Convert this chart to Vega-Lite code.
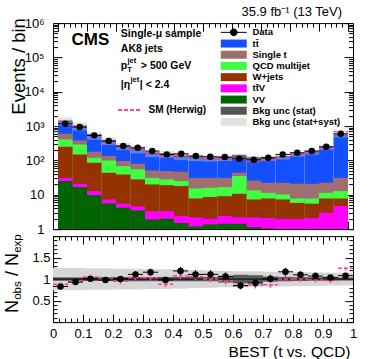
{
  "$schema": "https://vega.github.io/schema/vega-lite/v6.json",
  "padding": {"left": 3, "top": 5.1, "right": 0, "bottom": 0},
  "background": "white",
  "spacing": 7,
  "bounds": "flush",
  "config": {
    "font": "Liberation Sans",
    "view": {"stroke": "black", "strokeWidth": 1},
    "axis": {"labelFont": "Liberation Sans", "titleFont": "Liberation Sans", "labelColor": "black", "titleColor": "black", "tickColor": "black", "labelFontSize": 13, "titleFontWeight": "normal", "grid": false, "domain": false, "labelFlush": false, "labelOverlap": false, "labelBound": false},
    "legend": {"labelFont": "Liberation Sans", "labelColor": "black"},
    "text": {"font": "Liberation Sans", "color": "black"}
  },
  "resolve": {"scale": {"x": "independent", "y": "independent"}},
  "datasets": {
    "stack": [
      {"lo":0,"hi":0.05,"proc":"tt\u0304","upper":1406},{"lo":0.05,"hi":0.1,"proc":"tt\u0304","upper":1005},{"lo":0.1,"hi":0.15,"proc":"tt\u0304","upper":532},{"lo":0.15,"hi":0.2,"proc":"tt\u0304","upper":373},{"lo":0.2,"hi":0.25,"proc":"tt\u0304","upper":262},{"lo":0.25,"hi":0.3,"proc":"tt\u0304","upper":211},{"lo":0.3,"hi":0.35,"proc":"tt\u0304","upper":161},{"lo":0.35,"hi":0.4,"proc":"tt\u0304","upper":153},{"lo":0.4,"hi":0.45,"proc":"tt\u0304","upper":131},{"lo":0.45,"hi":0.5,"proc":"tt\u0304","upper":121},{"lo":0.5,"hi":0.55,"proc":"tt\u0304","upper":115},{"lo":0.55,"hi":0.6,"proc":"tt\u0304","upper":118},{"lo":0.6,"hi":0.65,"proc":"tt\u0304","upper":132},{"lo":0.65,"hi":0.7,"proc":"tt\u0304","upper":114},{"lo":0.7,"hi":0.75,"proc":"tt\u0304","upper":118},{"lo":0.75,"hi":0.8,"proc":"tt\u0304","upper":128},{"lo":0.8,"hi":0.85,"proc":"tt\u0304","upper":152},{"lo":0.85,"hi":0.9,"proc":"tt\u0304","upper":175},{"lo":0.9,"hi":0.95,"proc":"tt\u0304","upper":240},{"lo":0.95,"hi":1,"proc":"tt\u0304","upper":553},
      {"lo":0,"hi":0.05,"proc":"Single t","upper":598},{"lo":0.05,"hi":0.1,"proc":"Single t","upper":383},{"lo":0.1,"hi":0.15,"proc":"Single t","upper":179},{"lo":0.15,"hi":0.2,"proc":"Single t","upper":134},{"lo":0.2,"hi":0.25,"proc":"Single t","upper":96},{"lo":0.25,"hi":0.3,"proc":"Single t","upper":80},{"lo":0.3,"hi":0.35,"proc":"Single t","upper":51},{"lo":0.35,"hi":0.4,"proc":"Single t","upper":49},{"lo":0.4,"hi":0.45,"proc":"Single t","upper":47},{"lo":0.45,"hi":0.5,"proc":"Single t","upper":31},{"lo":0.5,"hi":0.55,"proc":"Single t","upper":31},{"lo":0.55,"hi":0.6,"proc":"Single t","upper":31},{"lo":0.6,"hi":0.65,"proc":"Single t","upper":43.7},{"lo":0.65,"hi":0.7,"proc":"Single t","upper":26},{"lo":0.7,"hi":0.75,"proc":"Single t","upper":22.4},{"lo":0.75,"hi":0.8,"proc":"Single t","upper":22.4},{"lo":0.8,"hi":0.85,"proc":"Single t","upper":20.9},{"lo":0.85,"hi":0.9,"proc":"Single t","upper":20.9},{"lo":0.9,"hi":0.95,"proc":"Single t","upper":22.4},{"lo":0.95,"hi":1,"proc":"Single t","upper":31},
      {"lo":0,"hi":0.05,"proc":"QCD multijet","upper":409},{"lo":0.05,"hi":0.1,"proc":"QCD multijet","upper":292},{"lo":0.1,"hi":0.15,"proc":"QCD multijet","upper":120},{"lo":0.15,"hi":0.2,"proc":"QCD multijet","upper":100},{"lo":0.2,"hi":0.25,"proc":"QCD multijet","upper":68},{"lo":0.25,"hi":0.3,"proc":"QCD multijet","upper":55},{"lo":0.3,"hi":0.35,"proc":"QCD multijet","upper":31},{"lo":0.35,"hi":0.4,"proc":"QCD multijet","upper":28},{"lo":0.4,"hi":0.45,"proc":"QCD multijet","upper":25},{"lo":0.45,"hi":0.5,"proc":"QCD multijet","upper":15.3},{"lo":0.5,"hi":0.55,"proc":"QCD multijet","upper":16},{"lo":0.55,"hi":0.6,"proc":"QCD multijet","upper":16.7},{"lo":0.6,"hi":0.65,"proc":"QCD multijet","upper":35},{"lo":0.65,"hi":0.7,"proc":"QCD multijet","upper":13.4},{"lo":0.7,"hi":0.75,"proc":"QCD multijet","upper":11.4},{"lo":0.75,"hi":0.8,"proc":"QCD multijet","upper":10.2},{"lo":0.8,"hi":0.85,"proc":"QCD multijet","upper":7.8},{"lo":0.85,"hi":0.9,"proc":"QCD multijet","upper":7.8},{"lo":0.9,"hi":0.95,"proc":"QCD multijet","upper":11.4},{"lo":0.95,"hi":1,"proc":"QCD multijet","upper":12.8},
      {"lo":0,"hi":0.05,"proc":"W+jets","upper":250},{"lo":0.05,"hi":0.1,"proc":"W+jets","upper":150},{"lo":0.1,"hi":0.15,"proc":"W+jets","upper":85.5},{"lo":0.15,"hi":0.2,"proc":"W+jets","upper":43.7},{"lo":0.2,"hi":0.25,"proc":"W+jets","upper":39},{"lo":0.25,"hi":0.3,"proc":"W+jets","upper":28},{"lo":0.3,"hi":0.35,"proc":"W+jets","upper":20},{"lo":0.35,"hi":0.4,"proc":"W+jets","upper":19},{"lo":0.4,"hi":0.45,"proc":"W+jets","upper":17.9},{"lo":0.45,"hi":0.5,"proc":"W+jets","upper":7.8},{"lo":0.5,"hi":0.55,"proc":"W+jets","upper":8.6},{"lo":0.55,"hi":0.6,"proc":"W+jets","upper":9.1},{"lo":0.6,"hi":0.65,"proc":"W+jets","upper":10.7},{"lo":0.65,"hi":0.7,"proc":"W+jets","upper":7.3},{"lo":0.7,"hi":0.75,"proc":"W+jets","upper":7.8},{"lo":0.75,"hi":0.8,"proc":"W+jets","upper":7.3},{"lo":0.8,"hi":0.85,"proc":"W+jets","upper":5.8},{"lo":0.85,"hi":0.9,"proc":"W+jets","upper":5.5},{"lo":0.9,"hi":0.95,"proc":"W+jets","upper":7.8},{"lo":0.95,"hi":1,"proc":"W+jets","upper":7.8},
      {"lo":0,"hi":0.05,"proc":"tt\u0304V","upper":31},{"lo":0.05,"hi":0.1,"proc":"tt\u0304V","upper":20.9},{"lo":0.1,"hi":0.15,"proc":"tt\u0304V","upper":12.8},{"lo":0.15,"hi":0.2,"proc":"tt\u0304V","upper":7.3},{"lo":0.2,"hi":0.25,"proc":"tt\u0304V","upper":5.5},{"lo":0.25,"hi":0.3,"proc":"tt\u0304V","upper":4.6},{"lo":0.3,"hi":0.35,"proc":"tt\u0304V","upper":3.3},{"lo":0.35,"hi":0.4,"proc":"tt\u0304V","upper":3.3},{"lo":0.4,"hi":0.45,"proc":"tt\u0304V","upper":2.4},{"lo":0.45,"hi":0.5,"proc":"tt\u0304V","upper":2.2},{"lo":0.5,"hi":0.55,"proc":"tt\u0304V","upper":2.0},{"lo":0.55,"hi":0.6,"proc":"tt\u0304V","upper":2.4},{"lo":0.6,"hi":0.65,"proc":"tt\u0304V","upper":2.2},{"lo":0.65,"hi":0.7,"proc":"tt\u0304V","upper":2.2},{"lo":0.7,"hi":0.75,"proc":"tt\u0304V","upper":2.1},{"lo":0.75,"hi":0.8,"proc":"tt\u0304V","upper":2.0},{"lo":0.8,"hi":0.85,"proc":"tt\u0304V","upper":2.0},{"lo":0.85,"hi":0.9,"proc":"tt\u0304V","upper":2.1},{"lo":0.9,"hi":0.95,"proc":"tt\u0304V","upper":3.0},{"lo":0.95,"hi":1,"proc":"tt\u0304V","upper":4.7},
      {"lo":0,"hi":0.05,"proc":"VV","upper":25},{"lo":0.05,"hi":0.1,"proc":"VV","upper":16.7},{"lo":0.1,"hi":0.15,"proc":"VV","upper":9.8},{"lo":0.15,"hi":0.2,"proc":"VV","upper":5.6},{"lo":0.2,"hi":0.25,"proc":"VV","upper":4.2},{"lo":0.25,"hi":0.3,"proc":"VV","upper":3.5},{"lo":0.3,"hi":0.35,"proc":"VV","upper":1.9},{"lo":0.35,"hi":0.4,"proc":"VV","upper":2.0},{"lo":0.4,"hi":0.45,"proc":"VV","upper":1.5},{"lo":0.45,"hi":0.5,"proc":"VV","upper":1.2},{"lo":0.5,"hi":0.55,"proc":"VV","upper":1.37},{"lo":0.55,"hi":0.6,"proc":"VV","upper":1.43},{"lo":0.6,"hi":0.65,"proc":"VV","upper":1.43},{"lo":0.65,"hi":0.7,"proc":"VV","upper":1.14},{"lo":0.7,"hi":0.75,"proc":"VV","upper":1.04},{"lo":0.75,"hi":0.8,"proc":"VV","upper":1},{"lo":0.8,"hi":0.85,"proc":"VV","upper":1},{"lo":0.85,"hi":0.9,"proc":"VV","upper":1},{"lo":0.9,"hi":0.95,"proc":"VV","upper":1},{"lo":0.95,"hi":1,"proc":"VV","upper":1}
    ],
    "bins": [
      {"lo":0,"hi":0.05,"x":0.025,"data":1167,"dlo":1133,"dhi":1201,"ratio":0.83,"rlo":0.806,"rhi":0.854,"syst_lo":1040,"syst_hi":1772,"stat_lo":1350,"stat_hi":1462,"rsyst_lo":0.74,"rsyst_hi":1.26,"rstat_lo":0.96,"rstat_hi":1.04,"herwig":1237,"hr":0.88,"hr_lo":0.82,"hr_hi":0.94},
      {"lo":0.05,"hi":0.1,"x":0.075,"data":935,"dlo":904,"dhi":966,"ratio":0.93,"rlo":0.9,"rhi":0.96,"syst_lo":744,"syst_hi":1266,"stat_lo":965,"stat_hi":1045,"rsyst_lo":0.74,"rsyst_hi":1.26,"rstat_lo":0.96,"rstat_hi":1.04,"herwig":955,"hr":0.95,"hr_lo":0.89,"hr_hi":1.01},
      {"lo":0.1,"hi":0.15,"x":0.125,"data":537,"dlo":514,"dhi":560,"ratio":1.01,"rlo":0.967,"rhi":1.053,"syst_lo":399,"syst_hi":665,"stat_lo":508,"stat_hi":556,"rsyst_lo":0.75,"rsyst_hi":1.25,"rstat_lo":0.955,"rstat_hi":1.045,"herwig":559,"hr":1.05,"hr_lo":0.99,"hr_hi":1.11},
      {"lo":0.15,"hi":0.2,"x":0.175,"data":366,"dlo":347,"dhi":385,"ratio":0.98,"rlo":0.93,"rhi":1.03,"syst_lo":280,"syst_hi":466,"stat_lo":356,"stat_hi":390,"rsyst_lo":0.75,"rsyst_hi":1.25,"rstat_lo":0.955,"rstat_hi":1.045,"herwig":373,"hr":1.0,"hr_lo":0.94,"hr_hi":1.06},
      {"lo":0.2,"hi":0.25,"x":0.225,"data":262,"dlo":246,"dhi":278,"ratio":1.0,"rlo":0.938,"rhi":1.062,"syst_lo":199,"syst_hi":325,"stat_lo":249,"stat_hi":275,"rsyst_lo":0.76,"rsyst_hi":1.24,"rstat_lo":0.95,"rstat_hi":1.05,"herwig":249,"hr":0.95,"hr_lo":0.88,"hr_hi":1.02},
      {"lo":0.25,"hi":0.3,"x":0.275,"data":234,"dlo":219,"dhi":249,"ratio":1.11,"rlo":1.038,"rhi":1.182,"syst_lo":160,"syst_hi":262,"stat_lo":200,"stat_hi":222,"rsyst_lo":0.76,"rsyst_hi":1.24,"rstat_lo":0.95,"rstat_hi":1.05,"herwig":219,"hr":1.04,"hr_lo":0.97,"hr_hi":1.11},
      {"lo":0.3,"hi":0.35,"x":0.325,"data":187,"dlo":173,"dhi":201,"ratio":1.16,"rlo":1.075,"rhi":1.245,"syst_lo":124,"syst_hi":198,"stat_lo":153,"stat_hi":169,"rsyst_lo":0.77,"rsyst_hi":1.23,"rstat_lo":0.95,"rstat_hi":1.05,"herwig":166,"hr":1.03,"hr_lo":0.96,"hr_hi":1.1},
      {"lo":0.35,"hi":0.4,"x":0.375,"data":150,"dlo":138,"dhi":162,"ratio":0.98,"rlo":0.9,"rhi":1.06,"syst_lo":118,"syst_hi":188,"stat_lo":145,"stat_hi":161,"rsyst_lo":0.77,"rsyst_hi":1.23,"rstat_lo":0.95,"rstat_hi":1.05,"herwig":135,"hr":0.88,"hr_lo":0.81,"hr_hi":0.95},
      {"lo":0.4,"hi":0.45,"x":0.425,"data":156,"dlo":143.5,"dhi":168.5,"ratio":1.19,"rlo":1.095,"rhi":1.285,"syst_lo":102,"syst_hi":160,"stat_lo":124,"stat_hi":138,"rsyst_lo":0.78,"rsyst_hi":1.22,"rstat_lo":0.95,"rstat_hi":1.05,"herwig":141,"hr":1.08,"hr_lo":1.0,"hr_hi":1.16},
      {"lo":0.45,"hi":0.5,"x":0.475,"data":134,"dlo":122.4,"dhi":145.6,"ratio":1.11,"rlo":1.014,"rhi":1.206,"syst_lo":96,"syst_hi":146,"stat_lo":115,"stat_hi":127,"rsyst_lo":0.79,"rsyst_hi":1.21,"rstat_lo":0.95,"rstat_hi":1.05,"herwig":128,"hr":1.06,"hr_lo":0.98,"hr_hi":1.14},
      {"lo":0.5,"hi":0.55,"x":0.525,"data":128,"dlo":116.7,"dhi":139.3,"ratio":1.11,"rlo":1.012,"rhi":1.208,"syst_lo":92,"syst_hi":138,"stat_lo":109,"stat_hi":121,"rsyst_lo":0.8,"rsyst_hi":1.2,"rstat_lo":0.95,"rstat_hi":1.05,"herwig":115,"hr":1.0,"hr_lo":0.92,"hr_hi":1.08},
      {"lo":0.55,"hi":0.6,"x":0.575,"data":125,"dlo":113.8,"dhi":136.2,"ratio":1.06,"rlo":0.965,"rhi":1.155,"syst_lo":96,"syst_hi":140,"stat_lo":109,"stat_hi":127,"rsyst_lo":0.81,"rsyst_hi":1.19,"rstat_lo":0.92,"rstat_hi":1.08,"herwig":113,"hr":0.96,"hr_lo":0.88,"hr_hi":1.04},
      {"lo":0.6,"hi":0.65,"x":0.625,"data":112,"dlo":101.4,"dhi":122.6,"ratio":0.85,"rlo":0.77,"rhi":0.93,"syst_lo":108,"syst_hi":156,"stat_lo":119,"stat_hi":145,"rsyst_lo":0.82,"rsyst_hi":1.18,"rstat_lo":0.9,"rstat_hi":1.1,"herwig":111,"hr":0.84,"hr_lo":0.76,"hr_hi":0.92},
      {"lo":0.65,"hi":0.7,"x":0.675,"data":104,"dlo":93.8,"dhi":114.2,"ratio":0.91,"rlo":0.821,"rhi":0.999,"syst_lo":93,"syst_hi":135,"stat_lo":104,"stat_hi":124,"rsyst_lo":0.82,"rsyst_hi":1.18,"rstat_lo":0.91,"rstat_hi":1.09,"herwig":98,"hr":0.86,"hr_lo":0.78,"hr_hi":0.94},
      {"lo":0.7,"hi":0.75,"x":0.725,"data":119,"dlo":108.1,"dhi":129.9,"ratio":1.01,"rlo":0.917,"rhi":1.103,"syst_lo":98,"syst_hi":138,"stat_lo":111,"stat_hi":125,"rsyst_lo":0.83,"rsyst_hi":1.17,"rstat_lo":0.94,"rstat_hi":1.06,"herwig":103,"hr":0.87,"hr_lo":0.8,"hr_hi":0.94},
      {"lo":0.75,"hi":0.8,"x":0.775,"data":150,"dlo":137.8,"dhi":162.2,"ratio":1.17,"rlo":1.075,"rhi":1.265,"syst_lo":106,"syst_hi":150,"stat_lo":122,"stat_hi":134,"rsyst_lo":0.83,"rsyst_hi":1.17,"rstat_lo":0.95,"rstat_hi":1.05,"herwig":128,"hr":1.0,"hr_lo":0.93,"hr_hi":1.07},
      {"lo":0.8,"hi":0.85,"x":0.825,"data":167,"dlo":154.1,"dhi":179.9,"ratio":1.1,"rlo":1.015,"rhi":1.185,"syst_lo":128,"syst_hi":176,"stat_lo":145,"stat_hi":159,"rsyst_lo":0.84,"rsyst_hi":1.16,"rstat_lo":0.955,"rstat_hi":1.045,"herwig":152,"hr":1.0,"hr_lo":0.93,"hr_hi":1.07},
      {"lo":0.85,"hi":0.9,"x":0.875,"data":187,"dlo":173.3,"dhi":200.7,"ratio":1.07,"rlo":0.992,"rhi":1.148,"syst_lo":147,"syst_hi":203,"stat_lo":168,"stat_hi":182,"rsyst_lo":0.84,"rsyst_hi":1.16,"rstat_lo":0.96,"rstat_hi":1.04,"herwig":172,"hr":0.98,"hr_lo":0.92,"hr_hi":1.04},
      {"lo":0.9,"hi":0.95,"x":0.925,"data":250,"dlo":234.2,"dhi":265.8,"ratio":1.04,"rlo":0.974,"rhi":1.106,"syst_lo":204,"syst_hi":276,"stat_lo":230,"stat_hi":250,"rsyst_lo":0.85,"rsyst_hi":1.15,"rstat_lo":0.96,"rstat_hi":1.04,"herwig":233,"hr":0.97,"hr_lo":0.91,"hr_hi":1.03},
      {"lo":0.95,"hi":1,"x":0.975,"data":597,"dlo":572.6,"dhi":621.4,"ratio":1.08,"rlo":1.036,"rhi":1.124,"syst_lo":470,"syst_hi":636,"stat_lo":534,"stat_hi":572,"rsyst_lo":0.85,"rsyst_hi":1.15,"rstat_lo":0.965,"rstat_hi":1.035,"herwig":691,"hr":1.25,"hr_lo":1.2,"hr_hi":1.3}
    ]
  },
  "vconcat": [
    {
      "width": 300,
      "height": 206,
      "title": {"text": "35.9 fb\u207b\u00b9 (13 TeV)", "anchor": "end", "frame": "group", "fontSize": 13, "fontWeight": "normal", "font": "Liberation Sans", "color": "black", "offset": -1.6, "dx": -11},
      "resolve": {"axis": {"x": "independent", "y": "independent"}},
      "layer": [
        {
          "data": {"name": "stack"},
          "mark": {"type": "bar", "orient": "vertical", "clip": true},
          "encoding": {
            "x": {"field": "lo", "type": "quantitative", "scale": {"domain": [0, 1], "nice": false, "zero": false},
              "axis": {"values": [0,0.02,0.04,0.06,0.08,0.1,0.12,0.14,0.16,0.18,0.2,0.22,0.24,0.26,0.28,0.3,0.32,0.34,0.36,0.38,0.4,0.42,0.44,0.46,0.48,0.5,0.52,0.54,0.56,0.58,0.6,0.62,0.64,0.66,0.68,0.7,0.72,0.74,0.76,0.78,0.8,0.82,0.84,0.86,0.88,0.9,0.92,0.94,0.96,0.98,1], "labels": false, "title": null,
                "tickSize": {"condition": {"test": "abs(datum.value*10 - round(datum.value*10)) < 0.001", "value": -8}, "value": -4}}},
            "x2": {"field": "hi"},
            "y": {"field": "upper", "type": "quantitative", "stack": null, "scale": {"type": "log", "domain": [1, 1000000], "nice": false},
              "axis": {"values": [1,2,3,4,5,6,7,8,9,10,20,30,40,50,60,70,80,90,100,200,300,400,500,600,700,800,900,1000,2000,3000,4000,5000,6000,7000,8000,9000,10000,20000,30000,40000,50000,60000,70000,80000,90000,100000,200000,300000,400000,500000,600000,700000,800000,900000,1000000],
                "labelExpr": "datum.value === 1 ? '1' : datum.value === 10 ? '10' : datum.value === 100 ? '10\u00b2' : datum.value === 1000 ? '10\u00b3' : datum.value === 10000 ? '10\u2074' : datum.value === 100000 ? '10\u2075' : datum.value === 1000000 ? '10\u2076' : ''",
                "labelPadding": 18,
                "tickSize": {"condition": {"test": "abs(log(datum.value)/LN10 - round(log(datum.value)/LN10)) < 0.001", "value": -9}, "value": -4.5},
                "title": "Events / bin", "titleFontSize": 18.5, "titleX": -29, "titleY": -5.5, "titleAlign": "right", "titleAngle": 270, "titleBaseline": "alphabetic"}},
            "color": {"field": "proc", "type": "nominal",
              "scale": {"domain": ["Data", "tt\u0304", "Single t", "QCD multijet", "W+jets", "tt\u0304V", "VV", "Bkg unc (stat)", "Bkg unc (stat+syst)"],
                        "range": ["#000000", "#1450ff", "#a06e6e", "#40ff40", "#963200", "#ff00ff", "#006400", "#555555", "#e2e2e2"]},
              "legend": {"title": null, "orient": "none", "legendX": 176, "legendY": 4.5, "symbolSize": 64, "labelFontSize": 9.5, "labelFontWeight": "bold", "labelOffset": 14, "rowPadding": -1.8, "labelLimit": 200,
                "encode": {"symbols": {"update": {
                  "shape": {"signal": "datum.value === 'Data' ? 'M-3.25,0H3.25M0.85,0A0.85,0.85,0,1,1,-0.85,0A0.85,0.85,0,1,1,0.85,0Z' : 'M-3.25,-1H3.25V1H-3.25Z'"},
                  "stroke": {"signal": "datum.value === 'Data' ? 'black' : 'transparent'"},
                  "strokeWidth": {"value": 1}}}}}}
          }
        },
        {
          "data": {"name": "bins"},
          "mark": {"type": "rect", "color": "#bdbdbd", "opacity": 0.45, "clip": true},
          "encoding": {
            "x": {"field": "lo", "type": "quantitative", "axis": null},
            "x2": {"field": "hi"},
            "y": {"field": "syst_lo", "type": "quantitative", "axis": null},
            "y2": {"field": "syst_hi"}
          }
        },
        {
          "data": {"name": "bins"},
          "mark": {"type": "rect", "color": "#555555", "opacity": 0.8, "clip": true},
          "encoding": {
            "x": {"field": "lo", "type": "quantitative", "axis": null},
            "x2": {"field": "hi"},
            "y": {"field": "stat_lo", "type": "quantitative", "axis": null},
            "y2": {"field": "stat_hi"}
          }
        },
        {
          "data": {"name": "bins"},
          "mark": {"type": "rule", "strokeDash": [4, 2], "strokeWidth": 1.5, "clip": true},
          "encoding": {
            "x": {"field": "lo", "type": "quantitative", "axis": null},
            "x2": {"field": "hi"},
            "y": {"field": "herwig", "type": "quantitative", "axis": null},
            "stroke": {"datum": "SM (Herwig)", "scale": {"range": ["#ff3fa4"]},
              "legend": {"title": null, "orient": "none", "legendX": 64, "legendY": 75, "symbolType": "stroke", "symbolSize": 484, "symbolDash": [4, 2], "symbolStrokeWidth": 2, "labelFontSize": 10, "labelFontWeight": "bold", "labelOffset": 7.5}}
          }
        },
        {
          "data": {"name": "bins"},
          "mark": {"type": "rule", "color": "black", "strokeWidth": 1},
          "encoding": {
            "x": {"field": "lo", "type": "quantitative", "axis": null},
            "x2": {"field": "hi"},
            "y": {"field": "data", "type": "quantitative", "axis": null}
          }
        },
        {
          "data": {"name": "bins"},
          "mark": {"type": "rule", "color": "black", "strokeWidth": 1},
          "encoding": {
            "x": {"field": "x", "type": "quantitative", "axis": null},
            "y": {"field": "dlo", "type": "quantitative", "axis": null},
            "y2": {"field": "dhi"}
          }
        },
        {
          "data": {"name": "bins"},
          "mark": {"type": "circle", "color": "black", "opacity": 1, "size": 42},
          "encoding": {
            "x": {"field": "x", "type": "quantitative",
              "axis": {"orient": "top", "values": [0,0.02,0.04,0.06,0.08,0.1,0.12,0.14,0.16,0.18,0.2,0.22,0.24,0.26,0.28,0.3,0.32,0.34,0.36,0.38,0.4,0.42,0.44,0.46,0.48,0.5,0.52,0.54,0.56,0.58,0.6,0.62,0.64,0.66,0.68,0.7,0.72,0.74,0.76,0.78,0.8,0.82,0.84,0.86,0.88,0.9,0.92,0.94,0.96,0.98,1], "labels": false, "title": null,
                "tickSize": {"condition": {"test": "abs(datum.value*10 - round(datum.value*10)) < 0.001", "value": -8}, "value": -4}}},
            "y": {"field": "data", "type": "quantitative",
              "axis": {"orient": "right", "values": [1,2,3,4,5,6,7,8,9,10,20,30,40,50,60,70,80,90,100,200,300,400,500,600,700,800,900,1000,2000,3000,4000,5000,6000,7000,8000,9000,10000,20000,30000,40000,50000,60000,70000,80000,90000,100000,200000,300000,400000,500000,600000,700000,800000,900000,1000000], "labels": false, "title": null,
                "tickSize": {"condition": {"test": "abs(log(datum.value)/LN10 - round(log(datum.value)/LN10)) < 0.001", "value": -9}, "value": -4.5}}}
          }
        },
        {
          "data": {"values": [{}]},
          "mark": {"type": "text", "text": "CMS", "fontSize": 17, "fontWeight": "bold", "align": "left", "baseline": "alphabetic"},
          "encoding": {"x": {"datum": 0.0467, "axis": null}, "y": {"datum": 235000, "axis": null}}
        },
        {
          "data": {"values": [{}]},
          "mark": {"type": "text", "text": "Single-\u03bc sample", "fontSize": 10.5, "fontWeight": "bold", "align": "left", "baseline": "alphabetic"},
          "encoding": {"x": {"datum": 0.2167, "axis": null}, "y": {"datum": 400000, "axis": null}}
        },
        {
          "data": {"values": [{}]},
          "mark": {"type": "text", "text": "AK8 jets", "fontSize": 10.5, "fontWeight": "bold", "align": "left", "baseline": "alphabetic"},
          "encoding": {"x": {"datum": 0.2167, "axis": null}, "y": {"datum": 140000, "axis": null}}
        },
        {
          "data": {"values": [{}]},
          "mark": {"type": "text", "text": "p", "fontSize": 10.5, "fontWeight": "bold", "align": "left", "baseline": "alphabetic"},
          "encoding": {"x": {"datum": 0.2167, "axis": null}, "y": {"datum": 46000, "axis": null}}
        },
        {
          "data": {"values": [{}]},
          "mark": {"type": "text", "text": "T", "fontSize": 7.5, "fontWeight": "bold", "align": "left", "baseline": "alphabetic", "dx": 6.4, "dy": 2.5},
          "encoding": {"x": {"datum": 0.2167, "axis": null}, "y": {"datum": 46000, "axis": null}}
        },
        {
          "data": {"values": [{}]},
          "mark": {"type": "text", "text": "jet", "fontSize": 7.5, "fontWeight": "bold", "align": "left", "baseline": "alphabetic", "dx": 6.6, "dy": -6},
          "encoding": {"x": {"datum": 0.2167, "axis": null}, "y": {"datum": 46000, "axis": null}}
        },
        {
          "data": {"values": [{}]},
          "mark": {"type": "text", "text": "> 500 GeV", "fontSize": 10.5, "fontWeight": "bold", "align": "left", "baseline": "alphabetic", "dx": 20},
          "encoding": {"x": {"datum": 0.2167, "axis": null}, "y": {"datum": 46000, "axis": null}}
        },
        {
          "data": {"values": [{}]},
          "mark": {"type": "text", "text": "|\u03b7", "fontSize": 10.5, "fontWeight": "bold", "align": "left", "baseline": "alphabetic"},
          "encoding": {"x": {"datum": 0.2167, "axis": null}, "y": {"datum": 13000, "axis": null}}
        },
        {
          "data": {"values": [{}]},
          "mark": {"type": "text", "text": "jet", "fontSize": 7.5, "fontWeight": "bold", "align": "left", "baseline": "alphabetic", "dx": 9.6, "dy": -6},
          "encoding": {"x": {"datum": 0.2167, "axis": null}, "y": {"datum": 13000, "axis": null}}
        },
        {
          "data": {"values": [{}]},
          "mark": {"type": "text", "text": "| < 2.4", "fontSize": 10.5, "fontWeight": "bold", "align": "left", "baseline": "alphabetic", "dx": 19},
          "encoding": {"x": {"datum": 0.2167, "axis": null}, "y": {"datum": 13000, "axis": null}}
        }
      ]
    },
    {
      "width": 300,
      "height": 86,
      "resolve": {"axis": {"x": "independent", "y": "independent"}},
      "layer": [
        {
          "data": {"name": "bins"},
          "mark": {"type": "rect", "color": "#d6d6d6"},
          "encoding": {
            "x": {"field": "lo", "type": "quantitative", "scale": {"domain": [0, 1], "nice": false, "zero": false},
              "axis": {"values": [0,0.02,0.04,0.06,0.08,0.1,0.12,0.14,0.16,0.18,0.2,0.22,0.24,0.26,0.28,0.3,0.32,0.34,0.36,0.38,0.4,0.42,0.44,0.46,0.48,0.5,0.52,0.54,0.56,0.58,0.6,0.62,0.64,0.66,0.68,0.7,0.72,0.74,0.76,0.78,0.8,0.82,0.84,0.86,0.88,0.9,0.92,0.94,0.96,0.98,1],
                "labelExpr": "abs(datum.value*10 - round(datum.value*10)) < 0.001 ? format(datum.value, '~g') : ''",
                "labelPadding": 13,
                "tickSize": {"condition": {"test": "abs(datum.value*10 - round(datum.value*10)) < 0.001", "value": -8}, "value": -4},
                "title": "BEST (t vs. QCD)", "titleFontSize": 15.5, "titleX": 297, "titleY": 34, "titleAlign": "right", "titleAnchor": "end", "titleBaseline": "alphabetic"}},
            "x2": {"field": "hi"},
            "y": {"field": "rsyst_lo", "type": "quantitative", "scale": {"domain": [0, 2], "nice": false, "zero": false},
              "axis": {"values": [0,0.1,0.2,0.3,0.4,0.5,0.6,0.7,0.8,0.9,1,1.1,1.2,1.3,1.4,1.5,1.6,1.7,1.8,1.9,2],
                "labelExpr": "datum.value === 0.5 ? '0.5' : datum.value === 1 ? '1' : datum.value === 1.5 ? '1.5' : ''",
                "labelPadding": 11,
                "tickSize": {"condition": {"test": "abs(datum.value*2 - round(datum.value*2)) < 0.001", "value": -8}, "value": -4},
                "title": null}},
            "y2": {"field": "rsyst_hi"}
          }
        },
        {
          "data": {"name": "bins"},
          "mark": {"type": "rect", "color": "#5a5a5a"},
          "encoding": {
            "x": {"field": "lo", "type": "quantitative", "axis": null},
            "x2": {"field": "hi"},
            "y": {"field": "rstat_lo", "type": "quantitative", "axis": null},
            "y2": {"field": "rstat_hi"}
          }
        },
        {
          "data": {"values": [{}]},
          "mark": {"type": "rule", "color": "black", "strokeWidth": 1},
          "encoding": {"y": {"datum": 1, "axis": null}}
        },
        {
          "data": {"name": "bins"},
          "mark": {"type": "rule", "color": "#ff3fa4", "strokeDash": [4, 2], "strokeWidth": 1.5},
          "encoding": {
            "x": {"field": "lo", "type": "quantitative", "axis": null},
            "x2": {"field": "hi"},
            "y": {"field": "hr", "type": "quantitative", "axis": null}
          }
        },
        {
          "data": {"name": "bins"},
          "mark": {"type": "rule", "color": "#ff3fa4", "strokeDash": [3, 2], "strokeWidth": 1.5},
          "encoding": {
            "x": {"field": "x", "type": "quantitative", "axis": null},
            "y": {"field": "hr_lo", "type": "quantitative", "axis": null},
            "y2": {"field": "hr_hi"}
          }
        },
        {
          "data": {"name": "bins"},
          "mark": {"type": "rule", "color": "black", "strokeWidth": 1},
          "encoding": {
            "x": {"field": "lo", "type": "quantitative", "axis": null},
            "x2": {"field": "hi"},
            "y": {"field": "ratio", "type": "quantitative", "axis": null}
          }
        },
        {
          "data": {"name": "bins"},
          "mark": {"type": "rule", "color": "black", "strokeWidth": 1},
          "encoding": {
            "x": {"field": "x", "type": "quantitative", "axis": null},
            "y": {"field": "rlo", "type": "quantitative", "axis": null},
            "y2": {"field": "rhi"}
          }
        },
        {
          "data": {"name": "bins"},
          "mark": {"type": "circle", "color": "black", "opacity": 1, "size": 42},
          "encoding": {
            "x": {"field": "x", "type": "quantitative",
              "axis": {"orient": "top", "values": [0,0.02,0.04,0.06,0.08,0.1,0.12,0.14,0.16,0.18,0.2,0.22,0.24,0.26,0.28,0.3,0.32,0.34,0.36,0.38,0.4,0.42,0.44,0.46,0.48,0.5,0.52,0.54,0.56,0.58,0.6,0.62,0.64,0.66,0.68,0.7,0.72,0.74,0.76,0.78,0.8,0.82,0.84,0.86,0.88,0.9,0.92,0.94,0.96,0.98,1], "labels": false, "title": null,
                "tickSize": {"condition": {"test": "abs(datum.value*10 - round(datum.value*10)) < 0.001", "value": -8}, "value": -4}}},
            "y": {"field": "ratio", "type": "quantitative",
              "axis": {"orient": "right", "values": [0,0.1,0.2,0.3,0.4,0.5,0.6,0.7,0.8,0.9,1,1.1,1.2,1.3,1.4,1.5,1.6,1.7,1.8,1.9,2], "labels": false, "title": null,
                "tickSize": {"condition": {"test": "abs(datum.value*2 - round(datum.value*2)) < 0.001", "value": -8}, "value": -4}}}
          }
        },
        {
          "data": {"values": [{}]},
          "mark": {"type": "text", "text": "N", "fontSize": 18, "align": "left", "baseline": "alphabetic", "angle": 270},
          "encoding": {"x": {"datum": -0.1167, "axis": null}, "y": {"datum": 0.21, "axis": null}}
        },
        {
          "data": {"values": [{}]},
          "mark": {"type": "text", "text": "obs", "fontSize": 11.5, "align": "left", "baseline": "alphabetic", "angle": 270, "dx": 13.3, "dy": 3.5},
          "encoding": {"x": {"datum": -0.1167, "axis": null}, "y": {"datum": 0.21, "axis": null}}
        },
        {
          "data": {"values": [{}]},
          "mark": {"type": "text", "text": "/", "fontSize": 18, "align": "left", "baseline": "alphabetic", "angle": 270, "dx": 37},
          "encoding": {"x": {"datum": -0.1167, "axis": null}, "y": {"datum": 0.21, "axis": null}}
        },
        {
          "data": {"values": [{}]},
          "mark": {"type": "text", "text": "N", "fontSize": 18, "align": "left", "baseline": "alphabetic", "angle": 270, "dx": 47},
          "encoding": {"x": {"datum": -0.1167, "axis": null}, "y": {"datum": 0.21, "axis": null}}
        },
        {
          "data": {"values": [{}]},
          "mark": {"type": "text", "text": "exp", "fontSize": 11.5, "align": "left", "baseline": "alphabetic", "angle": 270, "dx": 60.3, "dy": 3.5},
          "encoding": {"x": {"datum": -0.1167, "axis": null}, "y": {"datum": 0.21, "axis": null}}
        }
      ]
    }
  ]
}
